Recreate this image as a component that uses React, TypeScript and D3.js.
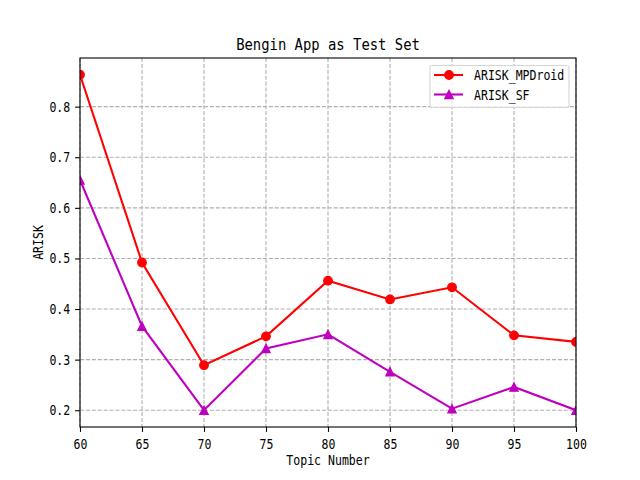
import React, {useEffect, useRef} from 'react';
import * as d3 from 'd3';

const topics = [60, 65, 70, 75, 80, 85, 90, 95, 100];
const mpdroid = [0.863, 0.492, 0.289, 0.346, 0.456, 0.419, 0.443, 0.348, 0.335];
const sf = [0.655, 0.366, 0.200, 0.322, 0.350, 0.276, 0.203, 0.246, 0.200];
const yTicks = [0.2, 0.3, 0.4, 0.5, 0.6, 0.7, 0.8];
const seriesNames = ['ARISK_MPDroid', 'ARISK_SF'];

const FONT = '"DejaVu Sans Mono", monospace';
const CHAR_W = 6.94; // half-width glyph at 10pt

const App: React.FC = () => {
    const svgRef = useRef<SVGSVGElement>(null);
    const width = 640;
    const height = 480;
    const margin = {top: 58, right: 64, bottom: 53, left: 80};

    useEffect(() => {
        const svg = d3.select(svgRef.current);
        svg.selectAll("*").remove();

        const innerWidth = width - margin.left - margin.right;
        const innerHeight = height - margin.top - margin.bottom;

        const all = mpdroid.concat(sf);
        const lo = d3.min(all) as number;
        const hi = d3.max(all) as number;
        const pad = (hi - lo) * 0.05;

        const x = d3.scaleLinear().domain([60, 100]).range([0, innerWidth]);
        const y = d3.scaleLinear().domain([lo - pad, hi + pad]).range([innerHeight, 0]);

        svg.append("rect").attr("width", width).attr("height", height).attr("fill", "#fff");

        svg.append("defs").append("clipPath").attr("id", "plot-clip")
            .append("rect").attr("width", innerWidth).attr("height", innerHeight);

        const g = svg.append("g")
            .attr("transform", `translate(${margin.left},${margin.top})`);

        // grid
        const grid = g.append("g").attr("stroke", "#b0b0b0").attr("stroke-width", 1.1)
            .attr("stroke-dasharray", "4.1,1.8");
        grid.selectAll(".gx").data(topics).enter().append("line")
            .attr("x1", d => x(d)).attr("x2", d => x(d))
            .attr("y1", 0).attr("y2", innerHeight);
        grid.selectAll(".gy").data(yTicks).enter().append("line")
            .attr("x1", 0).attr("x2", innerWidth)
            .attr("y1", d => y(d)).attr("y2", d => y(d));

        // axes
        const xAxis = g.append("g")
            .attr("transform", `translate(0,${innerHeight})`)
            .call(d3.axisBottom(x).tickValues(topics).tickSize(4.9).tickPadding(4.9).tickFormat(d3.format("d")));
        const yAxis = g.append("g")
            .call(d3.axisLeft(y).tickValues(yTicks).tickSize(4.9).tickPadding(4.9).tickFormat(d3.format(".1f")));
        [xAxis, yAxis].forEach(a => {
            a.select(".domain").remove();
            a.selectAll("line").attr("stroke", "#000").attr("stroke-width", 1.1);
            a.selectAll<SVGTextElement, number>("text")
                .style("font-family", FONT)
                .style("font-size", "13.9px")
                .attr("fill", "#000")
                .attr("lengthAdjust", "spacingAndGlyphs")
                .attr("textLength", function () { return (this.textContent || "").length * CHAR_W; });
        });
        xAxis.selectAll("text").attr("dy", "0.85em");

        // lines
        const line = d3.line<number>()
            .x((_, i) => x(topics[i]))
            .y(d => y(d));

        const plot = g.append("g").attr("clip-path", "url(#plot-clip)");
        plot.append("path").datum(mpdroid)
            .attr("fill", "none").attr("stroke", "#ff0000").attr("stroke-width", 2.1)
            .attr("d", line);
        plot.append("path").datum(sf)
            .attr("fill", "none").attr("stroke", "#bf00bf").attr("stroke-width", 2.1)
            .attr("d", line);

        const triangle = (cx: number, cy: number, s: number) =>
            `M${cx},${cy - s}L${cx - s},${cy + s}L${cx + s},${cy + s}Z`;

        plot.selectAll(".dot").data(mpdroid).enter().append("circle")
            .attr("cx", (_, i) => x(topics[i]))
            .attr("cy", d => y(d))
            .attr("r", 4.3)
            .attr("fill", "#ff0000").attr("stroke", "#ff0000").attr("stroke-width", 1.2);
        plot.selectAll(".tri").data(sf).enter().append("path")
            .attr("d", (d, i) => triangle(x(topics[i]), y(d), 4.2))
            .attr("fill", "#bf00bf").attr("stroke", "#bf00bf").attr("stroke-width", 1.2);

        // spines
        g.append("rect")
            .attr("width", innerWidth).attr("height", innerHeight)
            .attr("fill", "none").attr("stroke", "#000").attr("stroke-width", 1.1);

        // title and labels
        const title = "Bengin App as Test Set";
        svg.append("text")
            .attr("x", margin.left + innerWidth / 2).attr("y", 50)
            .attr("text-anchor", "middle")
            .attr("textLength", title.length * 8.35).attr("lengthAdjust", "spacingAndGlyphs")
            .style("font-family", FONT).style("font-size", "16.7px")
            .text(title);
        const xl = "Topic Number";
        svg.append("text")
            .attr("x", margin.left + innerWidth / 2).attr("y", 465)
            .attr("text-anchor", "middle")
            .attr("textLength", xl.length * CHAR_W).attr("lengthAdjust", "spacingAndGlyphs")
            .style("font-family", FONT).style("font-size", "13.9px")
            .text(xl);
        const yl = "ARISK";
        svg.append("text")
            .attr("transform", `translate(43,${margin.top + innerHeight / 2}) rotate(-90)`)
            .attr("text-anchor", "middle")
            .attr("textLength", yl.length * CHAR_W).attr("lengthAdjust", "spacingAndGlyphs")
            .style("font-family", FONT).style("font-size", "13.9px")
            .text(yl);

        // legend
        const lg = svg.append("g").attr("transform", "translate(430,65.5)");
        lg.append("rect")
            .attr("width", 139).attr("height", 42).attr("rx", 2)
            .attr("fill", "#fff").attr("fill-opacity", 0.8)
            .attr("stroke", "#d6d6d6").attr("stroke-width", 1.1);
        const colors = ["#ff0000", "#bf00bf"];
        seriesNames.forEach((name, i) => {
            const cy = 9.5 + i * 19.5;
            lg.append("line").attr("x1", 4).attr("x2", 33).attr("y1", cy).attr("y2", cy)
                .attr("stroke", colors[i]).attr("stroke-width", 2.1);
            if (i === 0) {
                lg.append("circle").attr("cx", 19).attr("cy", cy).attr("r", 4.3)
                    .attr("fill", colors[i]).attr("stroke", colors[i]).attr("stroke-width", 1.2);
            } else {
                lg.append("path").attr("d", triangle(19, cy, 4.2))
                    .attr("fill", colors[i]).attr("stroke", colors[i]).attr("stroke-width", 1.2);
            }
            lg.append("text").attr("x", 44).attr("y", cy).attr("dy", "0.36em")
                .attr("textLength", name.length * CHAR_W).attr("lengthAdjust", "spacingAndGlyphs")
                .style("font-family", FONT).style("font-size", "13.9px")
                .text(name);
        });
    }, []);

    return (
        <div style={{position: "absolute", left: 0, top: 0}}>
            <svg ref={svgRef} width={width} height={height} style={{display: "block"}}/>
        </div>
    );
};

export default App;
